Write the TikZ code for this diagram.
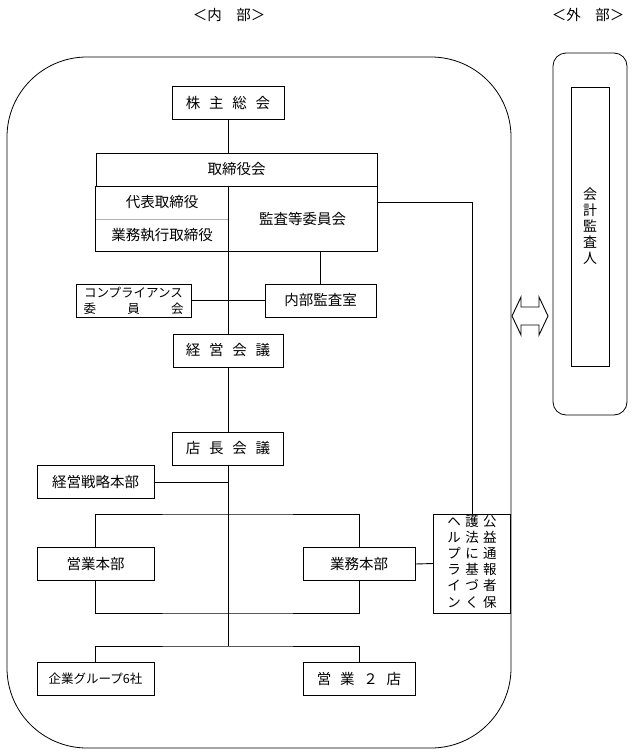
\documentclass[tikz,border=0pt]{standalone}
\usepackage{fontspec}
\setmainfont{Noto Sans CJK JP}
\usepackage{tikz}
\usetikzlibrary{positioning,calc}
\newcommand{\jgap}{\hspace{0.6em}}

\begin{document}
\begin{tikzpicture}[x=1pt, y=-1pt, line width=0.9pt,
  every node/.style={font=\fontsize{14.5}{17}\selectfont, inner sep=0pt},
  box/.style={draw, minimum height=33pt},
  small/.style={font=\fontsize{12.5}{16}\selectfont}]
\useasboundingbox (0,0) rectangle (633,755);
% 内部 / 外部
\draw[line width=0.8pt, rounded corners=80pt] (7,57) rectangle (511,748);
\draw[line width=0.8pt, rounded corners=13pt] (553,53) rectangle (627,415);
\node (lin) at (229,15) {＜内　部＞};
\node (lout) at (588,15) {＜外　部＞};
\node[draw, minimum width=38pt, minimum height=279pt, align=center,
  font=\fontsize{14}{16}\selectfont] (kaikei) at (590,226.5) {会\\計\\監\\査\\人};
\draw (512,316) -- (521,297) -- (521,307) -- (539,307) -- (539,297) -- (548,316)
  -- (539,335) -- (539,325) -- (521,325) -- (521,335) -- cycle;
% boxes
\foreach \n/\x/\y/\w/\t in {kabu/228/103/112/{株\jgap 主\jgap 総\jgap 会},
  naibu/320.5/300.5/111/内部監査室, keiei/228/350.5/110/{経\jgap 営\jgap 会\jgap 議},
  tencho/228/448.5/111/{店\jgap 長\jgap 会\jgap 議}, senryaku/95.5/482/117/経営戦略本部,
  eigyo/95.5/564/117/営業本部, gyomuhon/359/564/112/業務本部,
  eigyo2/359/679/112/{営\jgap 業\jgap ２\jgap 店}}
  \node[box, minimum width=\w pt] (\n) at (\x,\y) {\t};
\node[box, small, minimum width=115pt, align=center] (comp) at (133.5,300.5)
  {コンプライアンス\\\makebox[8em][s]{委\hfil 員\hfil 会}};
\node[box, small, minimum width=117pt] (kigyo) at (95.5,679) {企業グループ6社};
% 取締役会
\node[box, minimum width=281pt] (torikai) at (236.5,169.5) {取締役会};
\node[minimum width=132pt, minimum height=33pt] (daihyo) at (162,202.5) {代表取締役};
\node[minimum width=132pt, minimum height=32pt] (gyomu) at (162,235) {業務執行取締役};
\node[draw, minimum width=149pt, minimum height=65pt] (kansa) at (302.5,218.5) {監査等委員会};
\draw (torikai.south west) |- (kansa.south west);
\draw[gray!60, line width=0.6pt] (daihyo.south west) -- (daihyo.south east);
\node[draw, minimum width=77pt, minimum height=99pt, font=\fontsize{13.5}{16}\selectfont] (koeki) at (472,563.5)
  {\begin{tabular}{@{}c@{\hspace{4.5pt}}c@{\hspace{4.5pt}}c@{}}
   ヘ&護&公\\ル&法&益\\プ&に&通\\ラ&基&報\\イ&づ&者\\ン&く&保
   \end{tabular}};
% lines
\coordinate (kk) at (472,202);
\coordinate (bu) at (228,514);
\coordinate (bl) at (228,613);
\coordinate (bb) at (228,646);
\draw (kabu.south) -- (kabu.south |- torikai.north);
\draw (keiei.north) -- (keiei.north |- kansa.south);
\draw (keiei.south) -- (tencho.north);
\draw (tencho.south) -- (bb);
\draw (comp.east) -- (naibu.west);
\draw (naibu.north) -- (naibu.north |- kansa.south);
\draw (kansa.east |- kk) -- (kk) -- (koeki.north);
\draw (senryaku.east) -- (senryaku.east -| tencho.south);
\draw (eigyo.north) |- (bu) -| (gyomuhon.north);
\draw (eigyo.south) |- (bl) -| (gyomuhon.south);
\draw (gyomuhon.east) -- (koeki.west);
\draw (kigyo.north) |- (bb) -| (eigyo2.north);
\end{tikzpicture}
\end{document}
